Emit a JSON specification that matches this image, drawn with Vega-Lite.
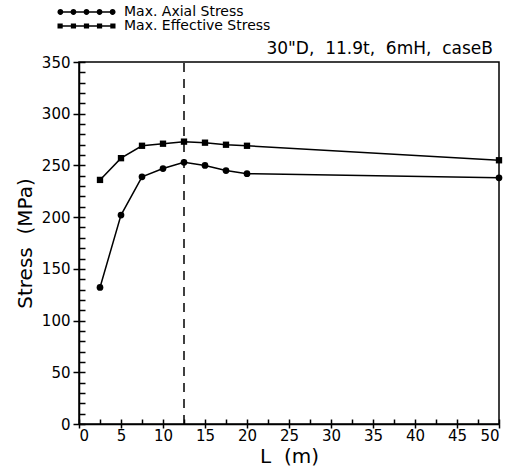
{
  "$schema": "https://vega.github.io/schema/vega-lite/v6.json",
  "width": 420,
  "height": 362,
  "autosize": "none",
  "padding": {"left": 79, "top": 62, "right": 17, "bottom": 45},
  "background": "white",
  "config": {
    "view": {"stroke": "black", "strokeWidth": 1.5},
    "font": "DejaVu Sans",
    "legend": {"padding": 0},
    "axis": {"domainColor": "black", "tickColor": "black", "labelColor": "black", "titleColor": "black", "grid": false, "domainWidth": 1.5, "tickWidth": 1.5, "labelFont": "DejaVu Sans", "titleFont": "DejaVu Sans"}
  },
  "data": {"values": [
    {"L": 2.5, "stress": 132, "series": "Max. Axial Stress"},
    {"L": 5, "stress": 202, "series": "Max. Axial Stress"},
    {"L": 7.5, "stress": 239, "series": "Max. Axial Stress"},
    {"L": 10, "stress": 247, "series": "Max. Axial Stress"},
    {"L": 12.5, "stress": 253, "series": "Max. Axial Stress"},
    {"L": 15, "stress": 250, "series": "Max. Axial Stress"},
    {"L": 17.5, "stress": 245, "series": "Max. Axial Stress"},
    {"L": 20, "stress": 242, "series": "Max. Axial Stress"},
    {"L": 50, "stress": 238, "series": "Max. Axial Stress"},
    {"L": 2.5, "stress": 236, "series": "Max. Effective Stress"},
    {"L": 5, "stress": 257, "series": "Max. Effective Stress"},
    {"L": 7.5, "stress": 269, "series": "Max. Effective Stress"},
    {"L": 10, "stress": 271, "series": "Max. Effective Stress"},
    {"L": 12.5, "stress": 273, "series": "Max. Effective Stress"},
    {"L": 15, "stress": 272, "series": "Max. Effective Stress"},
    {"L": 17.5, "stress": 270, "series": "Max. Effective Stress"},
    {"L": 20, "stress": 269, "series": "Max. Effective Stress"},
    {"L": 50, "stress": 255, "series": "Max. Effective Stress"}
  ]},
  "resolve": {"axis": {"x": "independent", "y": "independent"}},
  "layer": [
    {
      "data": {"values": [{"L": 12.5}]},
      "mark": {"type": "rule", "strokeDash": [9, 7], "strokeWidth": 1.5, "color": "black"},
      "encoding": {
        "x": {"field": "L", "type": "quantitative", "scale": {"domain": [0, 50], "nice": false},
          "axis": {"orient": "bottom", "values": [0,5,10,15,20,25,30,35,40,45,50], "tickSize": 4, "labelFontSize": 15, "labelPadding": 0, "title": "L\u00a0 (m)", "titleFontSize": 20, "titleFontWeight": "normal", "titlePadding": 3}},
        "y": {"datum": 0, "type": "quantitative", "scale": {"domain": [0, 350], "nice": false}, "axis": null},
        "y2": {"datum": 350}
      }
    },
    {
      "mark": {"type": "line", "color": "black", "strokeWidth": 1.5},
      "encoding": {
        "x": {"field": "L", "type": "quantitative",
          "axis": {"orient": "bottom", "values": [0,2.5,5,7.5,10,12.5,15,17.5,20,22.5,25,27.5,30,32.5,35,37.5,40,42.5,45,47.5,50], "tickSize": -5, "labels": false, "domain": false, "title": null}},
        "y": {"field": "stress", "type": "quantitative",
          "axis": {"orient": "left", "values": [0,50,100,150,200,250,300,350], "tickSize": 6, "labelFontSize": 15, "labelPadding": 3, "title": "Stress\u00a0 (MPa)", "titleFontSize": 20, "titleFontWeight": "normal", "titlePadding": 6}},
        "detail": {"field": "series"}
      }
    },
    {
      "transform": [{"filter": "datum.series === 'Max. Axial Stress'"}],
      "mark": {"type": "point", "shape": "circle", "filled": true, "color": "black", "opacity": 1, "size": 45},
      "encoding": {
        "x": {"field": "L", "type": "quantitative", "axis": null},
        "y": {"field": "stress", "type": "quantitative",
          "axis": {"orient": "left", "values": [0,10,20,30,40,50,60,70,80,90,100,110,120,130,140,150,160,170,180,190,200,210,220,230,240,250,260,270,280,290,300,310,320,330,340,350], "tickSize": -6, "labels": false, "domain": false, "title": null}}
      }
    },
    {
      "transform": [{"filter": "datum.series === 'Max. Effective Stress'"}],
      "mark": {"type": "point", "shape": "square", "filled": true, "color": "black", "opacity": 1, "size": 40},
      "encoding": {
        "x": {"field": "L", "type": "quantitative", "axis": null},
        "y": {"field": "stress", "type": "quantitative", "axis": null}
      }
    },
    {
      "transform": [{"filter": "false"}],
      "mark": {"type": "point", "filled": true, "color": "black", "opacity": 1},
      "encoding": {
        "x": {"field": "L", "type": "quantitative", "axis": null},
        "y": {"field": "stress", "type": "quantitative", "axis": null},
        "shape": {"field": "series", "type": "nominal",
          "scale": {"domain": ["Max. Axial Stress", "Max. Effective Stress"],
            "range": [
              "M-1,-0.025h2v0.05h-2zM-1,0a0.1,0.1 0 1,1 0.2,0a0.1,0.1 0 1,1 -0.2,0zM-0.55,0a0.1,0.1 0 1,1 0.2,0a0.1,0.1 0 1,1 -0.2,0zM-0.1,0a0.1,0.1 0 1,1 0.2,0a0.1,0.1 0 1,1 -0.2,0zM0.35,0a0.1,0.1 0 1,1 0.2,0a0.1,0.1 0 1,1 -0.2,0zM0.8,0a0.1,0.1 0 1,1 0.2,0a0.1,0.1 0 1,1 -0.2,0z",
              "M-1,-0.025h2v0.05h-2zM-1,-0.09h0.18v0.18h-0.18zM-0.54,-0.09h0.18v0.18h-0.18zM-0.09,-0.09h0.18v0.18h-0.18zM0.36,-0.09h0.18v0.18h-0.18zM0.82,-0.09h0.18v0.18h-0.18z"
            ]},
          "legend": {"orient": "none", "legendX": -22, "legendY": -56, "title": null, "labelFontSize": 14, "labelFont": "DejaVu Sans", "labelColor": "black", "rowPadding": 0, "clipHeight": 12, "symbolSize": 3364, "labelOffset": 8,
            "symbolFillColor": "black", "symbolStrokeColor": "black", "symbolStrokeWidth": 0.5}
        }
      }
    },
    {
      "data": {"values": [{"L": 50, "stress": 350}]},
      "mark": {"type": "text", "text": "30\"D, \u00a011.9t, \u00a06mH, \u00a0caseB", "align": "right", "baseline": "bottom", "dx": -6, "dy": -4, "fontSize": 17, "font": "DejaVu Sans", "color": "black"},
      "encoding": {
        "x": {"field": "L", "type": "quantitative", "axis": null},
        "y": {"field": "stress", "type": "quantitative", "axis": null}
      }
    }
  ]
}
